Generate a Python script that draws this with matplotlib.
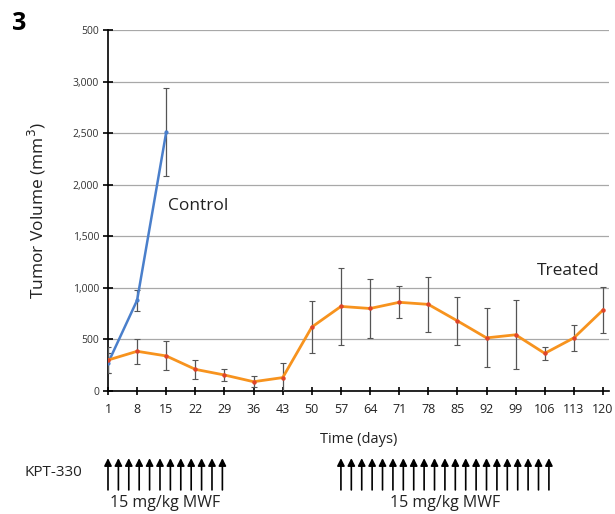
import numpy as np
import matplotlib.pyplot as plt
from matplotlib.ticker import FixedLocator, FixedFormatter

plt.rcParams["font.family"] = ["Open Sans", "DejaVu Sans"]

# data
ctrl_day = [1, 8, 15]
ctrl_vol = [270, 880, 2510]
ctrl_err = [100, 100, 430]

trt_day = [1, 8, 15, 22, 29, 36, 43, 50, 57, 64, 71, 78, 85, 92, 99, 106, 113, 120]
trt_vol = [300, 385, 340, 210, 155, 90, 130, 620, 820, 800, 860, 840, 680, 515, 545, 365, 515, 785]
trt_err = [130, 120, 140, 90, 60, 55, 140, 255, 370, 285, 155, 270, 235, 285, 335, 60, 125, 225]

x_ticks = [1, 8, 15, 22, 29, 36, 43, 50, 57, 64, 71, 78, 85, 92, 99, 106, 113, 120]
y_ticks = [0, 500, 1000, 1500, 2000, 2500, 3000, 3500]
y_labels = ["0", "500", "1,000", "1,500", "2,000", "2,500", "3,000", "500"]

# dosing arrows (days)
dose1 = [1, 3.5, 6, 8.5, 11, 13.5, 16, 18.5, 21, 23.5, 26, 28.5]
dose2 = [57, 59.5, 62, 64.5, 67, 69.5, 72, 74.5, 77, 79.5, 82, 84.5, 87, 89.5, 92,
         94.5, 97, 99.5, 102, 104.5, 107]

fig = plt.figure(figsize=(6.15, 5.14), dpi=100)
ax = fig.add_axes([0.1756, 0.2393, 0.815, 0.7023])

ax.errorbar(ctrl_day, ctrl_vol, yerr=ctrl_err, color='#4a7fcb', lw=1.8,
            ecolor='#555555', elinewidth=0.9, capsize=2, capthick=0.8, zorder=3)
ax.plot(ctrl_day, ctrl_vol, 'o', ms=2, color='#4a7fcb', zorder=4)
ax.errorbar(trt_day, trt_vol, yerr=trt_err, color='#f7931e', lw=2,
            ecolor='#555555', elinewidth=0.9, capsize=2, capthick=0.8, zorder=3)
ax.plot(trt_day, trt_vol, 'o', ms=2.2, color='#e0452a', zorder=4)

ax.set_xlim(1, 121.5)
ax.set_ylim(0, 3500)
ax.yaxis.set_major_locator(FixedLocator(y_ticks))
ax.yaxis.set_major_formatter(FixedFormatter(y_labels))
ax.set_xticks(x_ticks)
ax.set_xticklabels([str(d) for d in x_ticks])
for s in ['top', 'right']:
    ax.spines[s].set_visible(False)
ax.spines['left'].set_linewidth(1.2)
ax.spines['bottom'].set_linewidth(1.2)
ax.grid(axis='y', color='#a8a8a8', lw=0.9, zorder=0)
ax.tick_params(axis='y', direction='inout', length=7, width=1.2, labelsize=7.5,
               labelcolor='#333333', pad=3)
ax.tick_params(axis='x', direction='inout', length=6, width=1.2, labelsize=9,
               labelcolor='#222222', pad=6)

ax.set_ylabel(r'Tumor Volume (mm$^3$)', fontsize=12.5, color='#222222', labelpad=18)
ax.set_xlabel('Time (days)', fontsize=10.5, color='#222222', labelpad=11)

ax.text(15.5, 1790, 'Control', fontsize=12.5, color='#222222', ha='left', va='center')
ax.text(104.2, 1160, 'Treated', fontsize=12.5, color='#222222', ha='left', va='center')

fig.text(0.02, 0.955, '3', fontsize=18, fontweight='bold', ha='left', va='center')

# dosing schedule below axis
trans = ax.get_xaxis_transform()
for d in dose1 + dose2:
    ax.annotate('', xy=(d, -0.186), xytext=(d, -0.274), xycoords=trans, textcoords=trans,
                arrowprops=dict(arrowstyle='-|>', color='black', lw=1.2,
                                mutation_scale=11, shrinkA=0, shrinkB=0),
                annotation_clip=False)
fig.text(0.04, 0.080, 'KPT-330', fontsize=11, color='#222222', ha='left', va='center')
ax.text(np.mean(dose1), -0.31, '15 mg/kg MWF', transform=trans, fontsize=11.5,
        ha='center', va='center', color='#222222')
ax.text(np.mean(dose2), -0.31, '15 mg/kg MWF', transform=trans, fontsize=11.5,
        ha='center', va='center', color='#222222')

fig.savefig('out.png', dpi=100)
